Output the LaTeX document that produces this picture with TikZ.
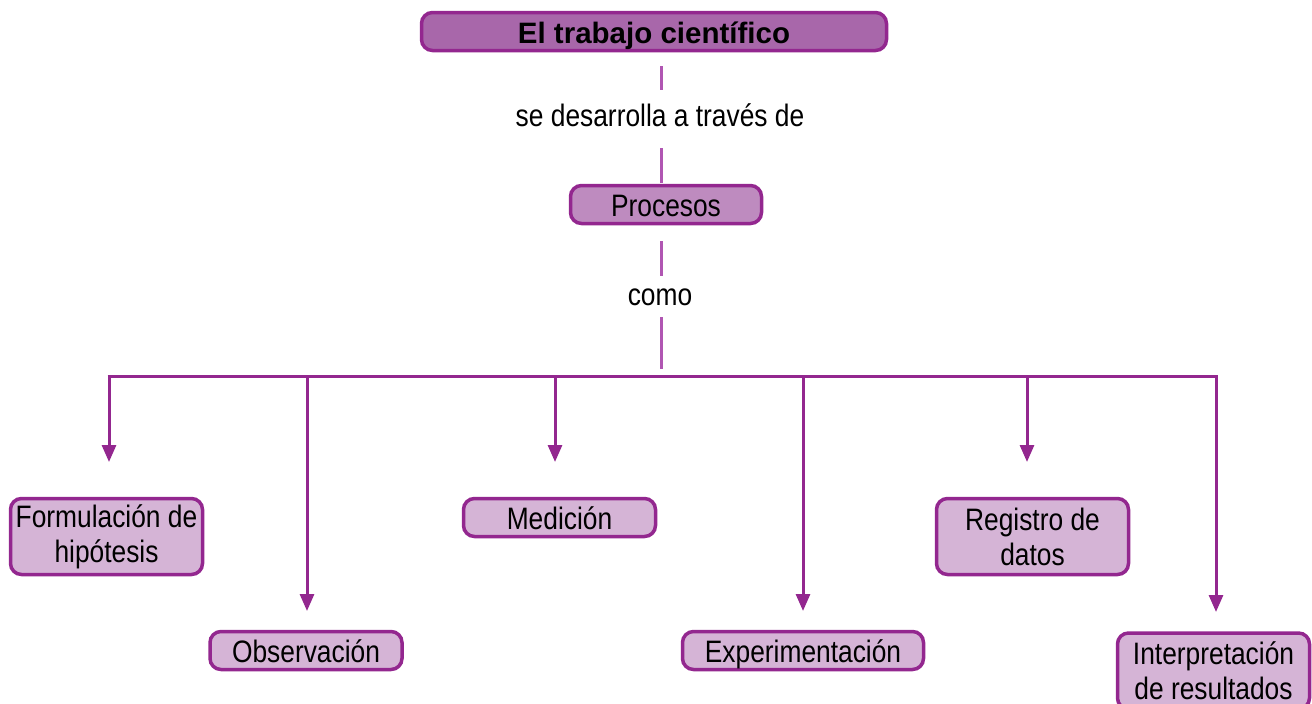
\documentclass[tikz,border=0pt]{standalone}
\usepackage{fontspec}
\setmainfont{Liberation Sans}[FakeStretch=0.85]
\newfontfamily\titlefont{Liberation Sans}
\usetikzlibrary{arrows.meta}
\definecolor{bord}{RGB}{147,39,143}
\definecolor{lightline}{RGB}{176,86,178}
\definecolor{titlefill}{RGB}{168,103,170}
\definecolor{midfill}{RGB}{190,139,191}
\definecolor{leaffill}{RGB}{213,180,214}
\tikzset{
  box/.style={draw=bord, line width=3.5pt, rounded corners=11pt, align=center,
    inner sep=0pt, font=\fontsize{31}{35}\selectfont},
  titlebox/.style={box, fill=titlefill, minimum width=465pt, minimum height=38pt,
    text height=24pt, text depth=0pt,
    font=\titlefont\bfseries\fontsize{29.5}{34}\selectfont},
  midbox/.style={box, fill=midfill, minimum width=191pt, minimum height=38pt,
    text height=24pt, text depth=0pt},
  leafone/.style={box, fill=leaffill, minimum height=38pt,
    text height=24pt, text depth=0pt},
  leaftwo/.style={box, fill=leaffill, minimum height=76pt},
  lbl/.style={font=\fontsize{31}{35}\selectfont, inner sep=0pt},
  thinl/.style={draw=lightline, line width=3pt},
  tree/.style={draw=bord, line width=3pt},
  arr/.style={tree, -{Triangle[width=14pt,length=17pt]}}
}
\begin{document}
\begin{tikzpicture}[x=1pt,y=-1pt]
\useasboundingbox (0,0) rectangle (1312,704);
\clip (0,0) rectangle (1312,704);
% main nodes
\node[titlebox] (top) at (654,31.5) {El trabajo científico};
\node[midbox] (proc) at (666,204.5) {Procesos};
\node[lbl] (l1) at (660,115) {se desarrolla a través de};
\node[lbl] (l2) at (660,297) {como};
% leaves
\node[leaftwo, minimum width=192pt] (form) at (106.5,536.5) {Formulación de\\hipótesis};
\node[leafone, minimum width=192pt] (obs) at (306,650.5) {Observación};
\node[leafone, minimum width=192pt] (med) at (559.5,517.5) {Medición};
\node[leafone, minimum width=241pt] (exp) at (803,650.5) {Experimentación};
\node[leaftwo, minimum width=192pt] (reg) at (1032.5,536.5) {Registro de\\datos};
\node[leaftwo, minimum width=192pt] (int) at (1213.5,671) {Interpretación\\de resultados};
% vertical connector pieces
\coordinate (a1) at (661,66);
\coordinate (a2) at (661,90);
\coordinate (a3) at (661,148);
\coordinate (a4) at (661,183);
\coordinate (c1) at (661,241);
\coordinate (c2) at (661,276);
\coordinate (c3) at (661,317);
\coordinate (c4) at (661,369);
\draw[thinl] (a1) -- (a2);
\draw[thinl] (a3) -- (a4);
\draw[thinl] (c1) -- (c2);
\draw[thinl] (c3) -- (c4);
% bar
\coordinate (bl) at (107.5,376);
\coordinate (br) at (1217.5,376);
\draw[tree] (bl) -- (br);
\coordinate (b1) at (109,376);
\coordinate (b2) at (307,376);
\coordinate (b3) at (555,376);
\coordinate (b4) at (803,376);
\coordinate (b5) at (1027,376);
\coordinate (b6) at (1216,376);
\coordinate (t1) at (109,462);
\coordinate (t2) at (307,611);
\coordinate (t3) at (555,462);
\coordinate (t4) at (803,611);
\coordinate (t5) at (1027,462);
\coordinate (t6) at (1216,612);
\draw[arr] (b1) -- (t1);
\draw[arr] (b2) -- (t2);
\draw[arr] (b3) -- (t3);
\draw[arr] (b4) -- (t4);
\draw[arr] (b5) -- (t5);
\draw[arr] (b6) -- (t6);
\end{tikzpicture}
\end{document}
